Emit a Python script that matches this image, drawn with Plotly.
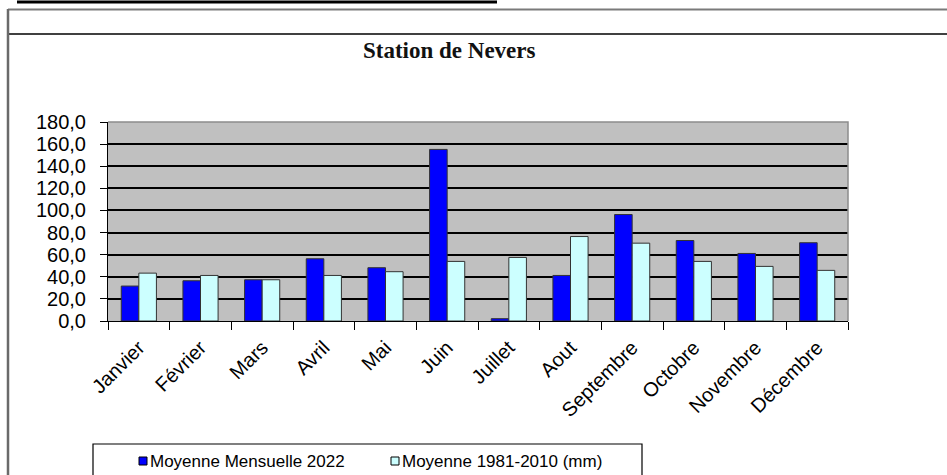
import plotly.graph_objects as go

# Monthly rainfall at Nevers (mm)
months = ["Janvier", "Février", "Mars", "Avril", "Mai", "Juin", "Juillet",
          "Aout", "Septembre", "Octobre", "Novembre", "Décembre"]
rain_2022 = [31.6, 36.4, 37.3, 56.3, 48.2, 155.2, 2.1, 41.2, 96.3, 72.8, 61.1, 70.8]
rain_normal = [43.3, 41.2, 37.3, 41.2, 44.6, 53.9, 57.5, 76.4, 70.4, 53.9, 49.4, 45.8]

name_2022 = "Moyenne Mensuelle 2022"
name_normal = "Moyenne 1981-2010 (mm)"
color_2022 = "#0000FF"
color_normal = "#CCFFFF"
y_ticks = [0, 20, 40, 60, 80, 100, 120, 140, 160, 180]

W, H = 947, 475
L, R, T, B = 108, 848, 122, 321  # plot area in pixels


def px_x(p):
    return (p - L) / (R - L)


def px_y(p):
    return (B - p) / (B - T)


fig = go.Figure()
fig.add_trace(go.Bar(x=months, y=rain_2022, name=name_2022,
                     marker=dict(color=color_2022, line=dict(color="#333333", width=1))))
fig.add_trace(go.Bar(x=months, y=rain_normal, name=name_normal,
                     marker=dict(color=color_normal, line=dict(color="#333333", width=1))))

shapes = []
# page frame lines
shapes.append(dict(type="line", xref="paper", yref="paper",
                   x0=px_x(17), x1=px_x(497), y0=px_y(2), y1=px_y(2),
                   line=dict(color="#000000", width=3)))
shapes.append(dict(type="line", xref="paper", yref="paper",
                   x0=px_x(8), x1=px_x(950), y0=px_y(9.5), y1=px_y(9.5),
                   line=dict(color="#7a7a7a", width=2)))
shapes.append(dict(type="line", xref="paper", yref="paper",
                   x0=px_x(8), x1=px_x(950), y0=px_y(34), y1=px_y(34),
                   line=dict(color="#000000", width=1.5)))
shapes.append(dict(type="line", xref="paper", yref="paper",
                   x0=px_x(8), x1=px_x(8), y0=px_y(9), y1=px_y(480),
                   line=dict(color="#6a6a6a", width=2.5)))
# plot area border (top and right)
shapes.append(dict(type="path", xref="paper", yref="paper",
                   path=f"M {px_x(L)},{px_y(T)} L {px_x(R)},{px_y(T)} L {px_x(R)},{px_y(B)}",
                   line=dict(color="#8c8c8c", width=1.5)))
# legend box and keys
shapes.append(dict(type="rect", xref="paper", yref="paper",
                   x0=px_x(93), x1=px_x(642), y0=px_y(444), y1=px_y(485),
                   line=dict(color="#000000", width=1.2), fillcolor="white"))
shapes.append(dict(type="rect", xref="paper", yref="paper",
                   x0=px_x(139), x1=px_x(147), y0=px_y(457), y1=px_y(465),
                   line=dict(color="#000000", width=1), fillcolor=color_2022))
shapes.append(dict(type="rect", xref="paper", yref="paper",
                   x0=px_x(391), x1=px_x(399), y0=px_y(457), y1=px_y(465),
                   line=dict(color="#000000", width=1), fillcolor=color_normal))

annotations = [
    dict(text="<b>Station de Nevers</b>", xref="paper", yref="paper",
         x=px_x(449), y=px_y(51), xanchor="center", yanchor="middle", showarrow=False,
         font=dict(family="Liberation Serif", size=23, color="#111111")),
    dict(text=name_2022, xref="paper", yref="paper",
         x=px_x(148), y=px_y(462), xanchor="left", yanchor="middle", showarrow=False,
         font=dict(family="Liberation Sans", size=17, color="#000000")),
    dict(text=name_normal, xref="paper", yref="paper",
         x=px_x(399.5), y=px_y(462), xanchor="left", yanchor="middle", showarrow=False,
         font=dict(family="Liberation Sans", size=17, color="#000000")),
]

fig.update_layout(
    width=W, height=H, autosize=False,
    margin=dict(l=L, r=W - R, t=T, b=H - B, pad=0),
    paper_bgcolor="white", plot_bgcolor="#C0C0C0",
    barmode="group", bargap=0.43, bargroupgap=0,
    showlegend=False,
    separators=", ",
    shapes=shapes, annotations=annotations,
    font=dict(family="Liberation Sans", color="#000000"),
)
fig.update_xaxes(
    showline=True, linecolor="#000000", linewidth=1,
    ticks="outside", tickson="boundaries", ticklen=8, tickcolor="#000000",
    tickangle=-45, tickfont=dict(family="Liberation Sans", size=20, color="#000000"),
    ticklabelstandoff=6, showgrid=False, automargin=False,
)
fig.update_yaxes(
    range=[0, 180], tickvals=y_ticks, tickformat=".1f",
    showline=True, linecolor="#000000", linewidth=1,
    ticks="outside", ticklen=7, tickcolor="#000000",
    tickfont=dict(family="Liberation Sans", size=20, color="#000000"),
    ticklabelstandoff=10,
    showgrid=True, gridcolor="#000000", gridwidth=1.5,
    zeroline=False, automargin=False,
)

fig.write_html("out.html")
